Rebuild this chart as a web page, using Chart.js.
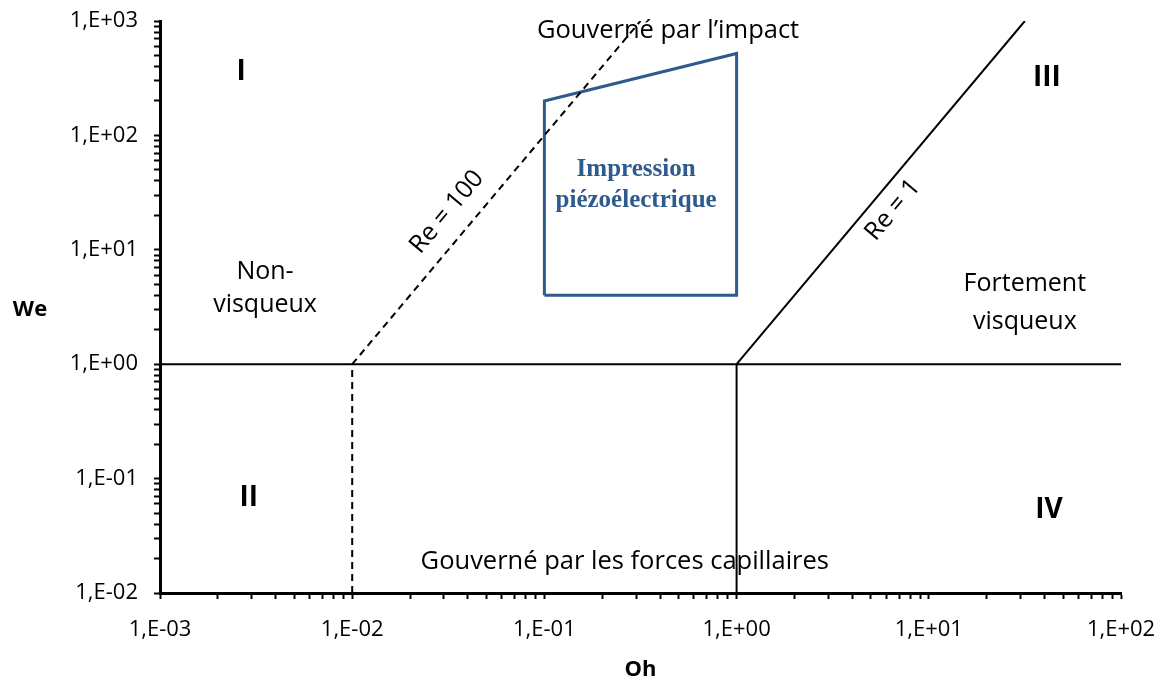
<!DOCTYPE html>
<html>
<head>
<meta charset="utf-8">
<script src="https://cdn.jsdelivr.net/npm/chart.js@4/dist/chart.umd.min.js"></script>
<style>
  body { margin: 0; background: #fff; }
  #wrap { width: 1164px; height: 681px; position: relative; }
</style>
</head>
<body>
<div id="wrap"><canvas id="myChart"></canvas></div>
<script>
// axes: Ohnesorge (x) and Weber (y), log-log
const ohPowers = [1e-3, 1e-2, 1e-1, 1, 10, 100];
const ohTickLabels = ['1,E-03', '1,E-02', '1,E-01', '1,E+00', '1,E+01', '1,E+02'];
const wePowers = [1e-2, 1e-1, 1, 10, 100, 1000];
const weTickLabels = ['1,E-02', '1,E-01', '1,E+00', '1,E+01', '1,E+02', '1,E+03'];

// frontier lines
const we1Oh = [0.001, 100];
const we1We = [1, 1];
const re100Oh = [0.01, 0.316];
const re100We = [1, 1000];
const re1Oh = [1, 31.6];
const re1We = [1, 1000];
const ohLowOh = [0.01, 0.01];
const ohLowWe = [0.01, 1];
const ohHighOh = [1, 1];
const ohHighWe = [0.01, 1];

// piezo printing window
const piezoOh = [0.1, 0.1, 1, 1, 0.1];
const piezoWe = [4, 200, 520, 4, 4];

const blue = '#2F5A8E';
const txt = '"Open Sans"';

function pts(xs, ys) {
    return xs.map((x, i) => ({ x: x, y: ys[i] }));
}

function line(label, xs, ys, color, width, dash) {
    return {
        label: label,
        data: pts(xs, ys),
        showLine: true,
        borderColor: color,
        borderWidth: width,
        borderDash: dash || [],
        pointRadius: 0,
        tension: 0,
        fill: false
    };
}

// text placed in data coordinates
const notes = [
    { lines: ['Gouverné par l’impact'], oh: 0.44, we: 818, font: '25.5px ' + txt },
    { lines: ['I'], oh: 0.00264, we: 358, font: 'bold 28px ' + txt },
    { lines: ['III'], oh: 41.2, we: 318, font: 'bold 28px ' + txt },
    { lines: ['II'], oh: 0.0029, we: 0.0676, font: 'bold 28px ' + txt },
    { lines: ['IV'], oh: 42.2, we: 0.0532, font: 'bold 28px ' + txt },
    { lines: ['Non-', 'visqueux'], oh: 0.00352, we: 4.63, font: '25px ' + txt, lh: 33 },
    { lines: ['Fortement', 'visqueux'], oh: 31.6, we: 3.43, font: '25px ' + txt, lh: 38 },
    { lines: ['Gouverné par les forces capillaires'], oh: 0.262, we: 0.0187, font: '25.5px ' + txt },
    { lines: ['Impression', 'piézoélectrique'], oh: 0.30, we: 36.8, font: 'bold 25px "Liberation Serif"', lh: 31, color: blue },
    { lines: ['Re = 100'], oh: 0.0311, we: 21.4, font: '25px ' + txt, along: [re100Oh, re100We] },
    { lines: ['Re = 1'], oh: 6.51, we: 22.3, font: '25px ' + txt, along: [re1Oh, re1We] }
];

const notesPlugin = {
    id: 'notes',
    afterDatasetsDraw(chart) {
        const ctx = chart.ctx;
        const xs = chart.scales.x;
        const ys = chart.scales.y;
        const area = chart.chartArea;
        ctx.save();
        ctx.textAlign = 'center';
        ctx.textBaseline = 'middle';
        notes.forEach(n => {
            const px = xs.getPixelForValue(n.oh);
            const py = ys.getPixelForValue(n.we);
            let angle = 0;
            if (n.along) {
                const x0 = xs.getPixelForValue(n.along[0][0]);
                const x1 = xs.getPixelForValue(n.along[0][1]);
                const y0 = ys.getPixelForValue(n.along[1][0]);
                const y1 = ys.getPixelForValue(n.along[1][1]);
                angle = Math.atan2(y1 - y0, x1 - x0);
            }
            ctx.save();
            ctx.translate(px, py);
            ctx.rotate(angle);
            ctx.font = n.font;
            ctx.fillStyle = n.color || '#000';
            const lh = n.lh || 30;
            const start = -(n.lines.length - 1) * lh / 2;
            n.lines.forEach((t, i) => ctx.fillText(t, 0, start + i * lh));
            ctx.restore();
        });
        // axis titles, horizontal
        ctx.font = 'bold 22px ' + txt;
        ctx.fillStyle = '#000';
        ctx.fillText('We', area.left - 130, (area.top + area.bottom) / 2 + 3);
        ctx.fillText('Oh', (area.left + area.right) / 2, area.bottom + 77);
        ctx.restore();
    }
};

// ticks at 1..9 x 10^k, labelled only at the powers of ten
function logTicks(powers) {
    const out = [];
    for (let i = 0; i < powers.length; i++) {
        out.push({ value: powers[i] });
        if (i < powers.length - 1) {
            for (let m = 2; m <= 9; m++) out.push({ value: powers[i] * m });
        }
    }
    return out;
}

function labelFor(powers, labels) {
    return function (val) {
        const i = powers.findIndex(p => Math.abs(Math.log10(p) - Math.log10(val)) < 1e-6);
        return i >= 0 ? labels[i] : '';
    };
}

Chart.defaults.font.family = 'Open Sans';
Chart.defaults.color = '#000';

const ctx = document.getElementById('myChart').getContext('2d');

const myChart = new Chart(ctx, {
    type: 'scatter',
    data: {
        datasets: [
            line('We = 1', we1Oh, we1We, '#000', 2),
            line('Re = 100', re100Oh, re100We, '#000', 2, [7, 5]),
            line('Re = 1', re1Oh, re1We, '#000', 2),
            line('Oh = 0.01', ohLowOh, ohLowWe, '#000', 2, [7, 5]),
            line('Oh = 1', ohHighOh, ohHighWe, '#000', 2),
            line('Impression piézoélectrique', piezoOh, piezoWe, blue, 3)
        ]
    },
    options: {
        responsive: true,
        maintainAspectRatio: false,
        animation: false,
        layout: { padding: { left: 0, right: 43, top: 21, bottom: 0 } },
        plugins: {
            legend: { display: false },
            tooltip: { enabled: false }
        },
        scales: {
            x: {
                type: 'logarithmic',
                min: 1e-3,
                max: 100,
                afterBuildTicks: s => { s.ticks = logTicks(ohPowers); },
                afterFit: s => { s.height = 88; s.paddingLeft = 0; s.paddingRight = 0; },
                ticks: {
                    autoSkip: false,
                    maxRotation: 0,
                    padding: 18,
                    font: { size: 22 },
                    callback: labelFor(ohPowers, ohTickLabels)
                },
                grid: {
                    drawOnChartArea: false,
                    drawTicks: true,
                    tickLength: 6,
                    tickWidth: 2,
                    tickColor: '#000'
                },
                border: { display: true, width: 3, color: '#000' }
            },
            y: {
                type: 'logarithmic',
                min: 1e-2,
                max: 1000,
                afterBuildTicks: s => { s.ticks = logTicks(wePowers); },
                afterFit: s => { s.width = 160; s.paddingTop = 0; s.paddingBottom = 0; },
                ticks: {
                    autoSkip: false,
                    padding: 16,
                    font: { size: 22 },
                    callback: labelFor(wePowers, weTickLabels)
                },
                grid: {
                    drawOnChartArea: false,
                    drawTicks: true,
                    tickLength: 6,
                    tickWidth: 2,
                    tickColor: '#000'
                },
                border: { display: true, width: 3, color: '#000' }
            }
        }
    },
    plugins: [notesPlugin]
});
</script>
</body>
</html>
